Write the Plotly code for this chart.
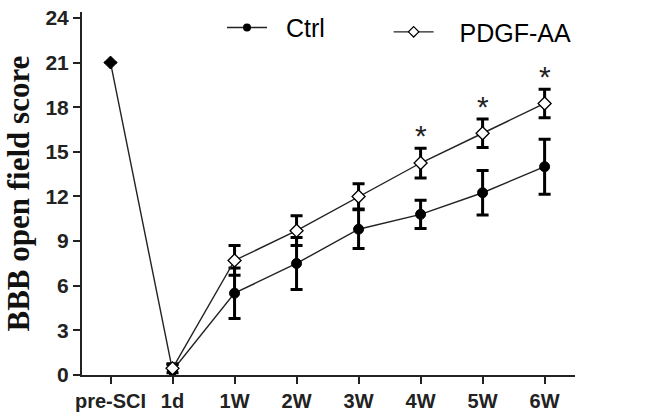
import plotly.graph_objects as go

categories = ["pre-SCI", "1d", "1W", "2W", "3W", "4W", "5W", "6W"]
ctrl_mean = [21.0, 0.3, 5.5, 7.5, 9.8, 10.8, 12.25, 14.0]
ctrl_err = [0.0, 0.4, 1.7, 1.75, 1.3, 0.95, 1.5, 1.85]
ctrl_symbols = ["diamond", "circle", "circle", "circle", "circle", "circle", "circle", "circle"]
pdgf_cats = ["1d", "1W", "2W", "3W", "4W", "5W", "6W"]
pdgf_mean = [0.45, 7.7, 9.7, 12.0, 14.25, 16.25, 18.25]
pdgf_err = [0.3, 1.0, 1.0, 0.85, 1.0, 0.95, 0.95]
sig_cats = ["4W", "5W", "6W"]
yticks = [0, 3, 6, 9, 12, 15, 18, 21, 24]

LINE = dict(color="#222", width=1.4)
ERR = dict(type="data", visible=True, color="black", thickness=3, width=6)
CTRL_MARK = dict(size=10, color="black", line=dict(color="black", width=1))
PDGF_MARK = dict(symbol="diamond", size=10, color="white", line=dict(color="black", width=1.3))
LEG_FONT = dict(family="Liberation Sans, Arial", size=25, color="black")

fig = go.Figure()
fig.add_trace(go.Scatter(
    x=categories, y=ctrl_mean, name="Ctrl", mode="lines+markers", showlegend=False,
    line=LINE, marker=dict(symbol=ctrl_symbols, **CTRL_MARK),
    error_y=dict(array=ctrl_err, **ERR),
))
fig.add_trace(go.Scatter(
    x=pdgf_cats, y=pdgf_mean, name="PDGF-AA", mode="lines+markers", showlegend=False,
    line=LINE, marker=PDGF_MARK,
    error_y=dict(array=pdgf_err, **ERR),
))
# legend entries
fig.add_trace(go.Scatter(x=[None], y=[None], name="  Ctrl", mode="lines+markers",
                         line=LINE, marker=dict(symbol="circle", size=8, color="black"),
                         legend="legend"))
fig.add_trace(go.Scatter(x=[None], y=[None], name="   PDGF-AA", mode="lines+markers",
                         line=LINE, marker=dict(symbol="diamond", size=8, color="white",
                                                line=dict(color="black", width=1.2)),
                         legend="legend2"))

for c in sig_cats:
    i = pdgf_cats.index(c)
    fig.add_annotation(x=c, y=pdgf_mean[i] + pdgf_err[i], text="*", showarrow=False,
                       yanchor="bottom", yshift=-6,
                       font=dict(family="Liberation Sans, Arial", size=30, color="#222"))

fig.add_annotation(xref="paper", yref="paper", x=-64 / 493, y=0.5, xanchor="center", yanchor="middle",
                   text="<b>BBB open field score</b>", textangle=-90, showarrow=False,
                   font=dict(family="Liberation Serif, Times New Roman", size=31, color="#111"))

fig.update_layout(
    width=650, height=418,
    margin=dict(l=82, r=75, t=12, b=43, autoexpand=False),
    paper_bgcolor="white", plot_bgcolor="white",
    showlegend=True,
    legend=dict(orientation="h", x=0.284, y=1.02, xanchor="left", yanchor="top",
                font=LEG_FONT, itemwidth=40, bgcolor="rgba(0,0,0,0)"),
    legend2=dict(orientation="h", x=0.622, y=1.008, xanchor="left", yanchor="top",
                 font=LEG_FONT, itemwidth=40, bgcolor="rgba(0,0,0,0)"),
    font=dict(family="Liberation Sans, Arial", color="black"),
)
fig.update_xaxes(
    type="category", categoryorder="array", categoryarray=categories,
    range=[-0.46, 7.49], showline=True, linecolor="#222", linewidth=2,
    ticks="outside", ticklen=7, tickwidth=2, tickcolor="#222", automargin=False,
    tickfont=dict(family="Liberation Sans, Arial", size=20, color="#222", weight="bold"),
    showgrid=False, zeroline=False,
)
fig.update_yaxes(
    range=[0, 24.4], tickvals=yticks, showline=True, linecolor="#222", linewidth=2,
    ticks="outside", ticklen=7, tickwidth=2, tickcolor="#222", automargin=False,
    tickfont=dict(family="Liberation Sans, Arial", size=21, color="#222", weight="bold"),
    showgrid=False, zeroline=False,
)
fig.write_html("out.html", config={"displayModeBar": False},
               post_script="document.body.style.margin='0px';document.body.style.overflow='hidden';")
